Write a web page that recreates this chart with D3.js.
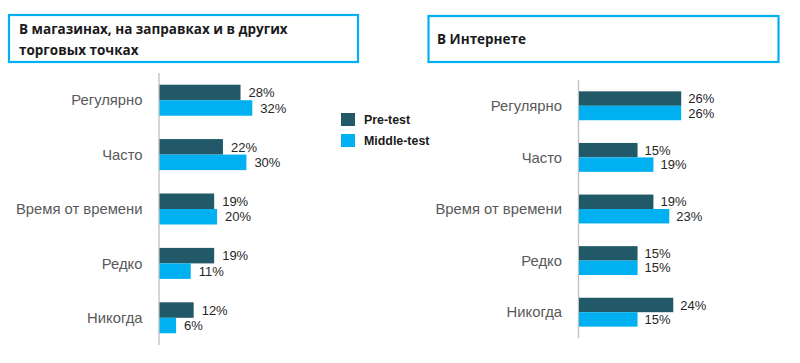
<!DOCTYPE html>
<html><head><meta charset="utf-8">
<script src="https://cdn.jsdelivr.net/npm/d3@7"></script>
<style>
body{margin:0;background:#fff;}
svg{display:block;}
</style></head>
<body>
<svg id="chart" width="800" height="363"></svg>
<script>
const categories = ["Регулярно","Часто","Время от времени","Редко","Никогда"];
const seriesNames = ["Pre-test","Middle-test"];
const storesPre = [28,22,19,19,12];
const storesMiddle = [32,30,20,11,6];
const internetPre = [26,15,19,15,24];
const internetMiddle = [26,19,23,15,15];
const titleStores = ["В магазинах, на заправках и в других","торговых точках"];
const titleInternet = ["В Интернете"];
const colors = ["#215968","#00B0F0"];

const svg = d3.select("#chart");
const labelFont = "Liberation Sans, Arial, sans-serif";

function panel(cfg){
  const g = svg.append("g");
  const x = d3.scaleLinear().domain([0,40]).range([cfg.x0, cfg.x0 + cfg.pxPer*40]);
  const y = d3.scaleBand().domain(categories).range([cfg.y0, cfg.y1]).paddingInner(cfg.pad).paddingOuter(cfg.pad/2);
  const y1 = d3.scaleBand().domain(seriesNames).range([0, y.bandwidth()]);
  const data = categories.map((c,i)=>({cat:c, vals:[cfg.pre[i], cfg.mid[i]]}));
  g.append("line").attr("x1",cfg.x0+0.5).attr("x2",cfg.x0+0.5).attr("y1",cfg.y0).attr("y2",cfg.y1)
    .attr("stroke","#BFBFBF").attr("stroke-width",1.3);
  g.selectAll("text.cat").data(categories).join("text").attr("class","cat")
    .attr("x", cfg.x0-16).attr("y", d=>y(d)+y.bandwidth()/2).attr("dy","0.35em")
    .attr("text-anchor","end").attr("font-family",labelFont).attr("font-size",14.8)
    .attr("fill","#595959").text(d=>d);
  const grp = g.selectAll("g.grp").data(data).join("g").attr("transform",d=>`translate(0,${y(d.cat)})`);
  grp.selectAll("rect").data(d=>d.vals.map((v,i)=>({v,s:seriesNames[i],i}))).join("rect")
    .attr("x", x(0)+1).attr("y", d=>y1(d.s)).attr("width", d=>x(d.v)-x(0)-1).attr("height", y1.bandwidth())
    .attr("fill", d=>colors[d.i]);
  grp.selectAll("text").data(d=>d.vals.map((v,i)=>({v,s:seriesNames[i],i}))).join("text")
    .attr("x", d=>x(d.v)+cfg.gap).attr("y", d=>y1(d.s)+y1.bandwidth()/2).attr("dy","0.36em")
    .attr("font-family",labelFont).attr("font-size",13).attr("fill","#262626")
    .text(d=>d.v+"%");
  g.append("rect").attr("x",cfg.bx).attr("y",cfg.by).attr("width",cfg.bw).attr("height",cfg.bh)
    .attr("fill","#fff").attr("stroke","#00B0F0").attr("stroke-width",2.2);
  g.selectAll("text.title").data(cfg.title).join("text").attr("class","title")
    .attr("x",cfg.tx).attr("y",(d,i)=>cfg.ty+i*21.5)
    .attr("font-family","Open Sans, sans-serif").attr("font-weight","bold").attr("font-size",13.5)
    .attr("fill","#1a1a1a").text(d=>d);
}

panel({x0:158.5, pxPer:2.93, y0:73, y1:345, pad:0.43, pre:storesPre, mid:storesMiddle, gap:8,
  title:titleStores, bx:9, by:15, bw:349, bh:47, tx:19, ty:33.5});
panel({x0:578, pxPer:3.97, y0:80, y1:338, pad:0.44, pre:internetPre, mid:internetMiddle, gap:7,
  title:titleInternet, bx:428.5, by:16, bw:350, bh:46, tx:437, ty:44});

const leg = svg.append("g").attr("transform","translate(341,113)");
const li = leg.selectAll("g").data(seriesNames).join("g").attr("transform",(d,i)=>`translate(0,${i*21})`);
li.append("rect").attr("width",14).attr("height",13).attr("fill",(d,i)=>colors[i]);
li.append("text").attr("x",23).attr("y",6.5).attr("dy","0.36em")
  .attr("font-family",labelFont).attr("font-weight","bold").attr("font-size",12.4).attr("fill","#1a1a1a").text(d=>d);
</script>
</body></html>
